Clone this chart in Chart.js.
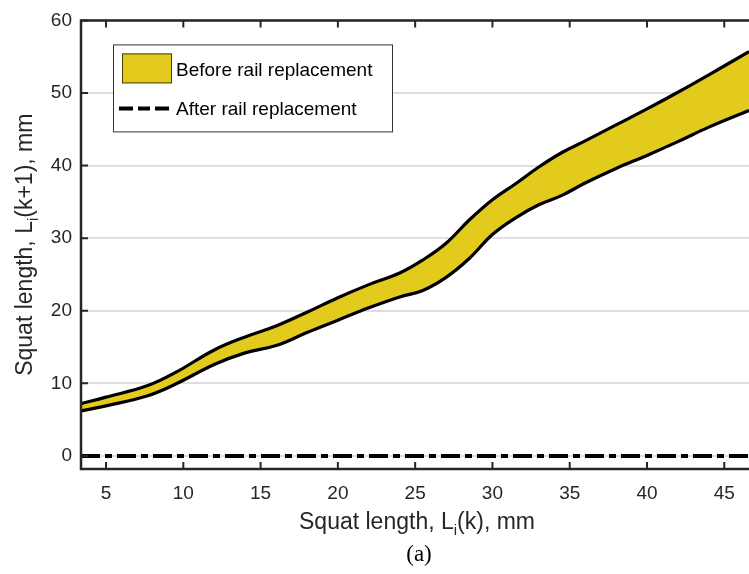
<!DOCTYPE html>
<html>
<head>
<meta charset="utf-8">
<script src="https://cdn.jsdelivr.net/npm/chart.js@4/dist/chart.umd.min.js"></script>
<style>
html,body{margin:0;padding:0;background:#fff;overflow:hidden;}
canvas{display:block;}
</style>
</head>
<body>
<canvas id="c" width="749" height="574"></canvas>
<script>
// ---- data ----
const xValues = [3.38, 5, 7.7, 9.5, 12, 14, 16, 18, 20, 22, 24, 25.5, 27, 28.5, 30, 31.5, 33, 34.5, 36, 38, 40, 42, 44, 46.6];
const beforeUpper = [7.2, 8.1, 9.7, 11.5, 14.6, 16.4, 17.9, 19.8, 21.8, 23.6, 25.2, 27.0, 29.3, 32.5, 35.3, 37.5, 39.8, 41.8, 43.4, 45.6, 47.8, 50.1, 52.5, 55.7];
const beforeLower = [6.2, 6.9, 8.3, 9.9, 12.6, 14.2, 15.2, 17.0, 18.7, 20.4, 21.9, 22.8, 24.6, 27.2, 30.5, 32.8, 34.6, 35.9, 37.6, 39.6, 41.4, 43.3, 45.3, 47.6];
const afterX = [3.38, 46.6];
const afterY = [0, 0];
const xTicks = [5, 10, 15, 20, 25, 30, 35, 40, 45];
const yTicks = [0, 10, 20, 30, 40, 50, 60];
const legendLabels = ['Before rail replacement', 'After rail replacement'];

const YELLOW = '#E3CB1D';
const AXIS = '#262626';
const FONT = '"Liberation Sans", Arial, Helvetica, sans-serif';

function drawSubText(ctx, parts, x, y, align) {
  const big = '23px ' + FONT, small = '15px ' + FONT;
  let total = 0;
  parts.forEach(p => { ctx.font = p[1] ? small : big; total += ctx.measureText(p[0]).width; });
  let cx = align === 'center' ? x - total / 2 : x;
  ctx.textAlign = 'left';
  ctx.textBaseline = 'alphabetic';
  parts.forEach(p => {
    ctx.font = p[1] ? small : big;
    ctx.fillText(p[0], cx, p[1] ? y + 6 : y);
    cx += ctx.measureText(p[0]).width;
  });
}

const decor = {
  id: 'decor',
  afterDraw(chart) {
    const ctx = chart.ctx, ca = chart.chartArea;
    const xs = chart.scales.x, ys = chart.scales.y;
    ctx.save();
    ctx.strokeStyle = AXIS;
    ctx.lineWidth = 2.5;
    ctx.lineCap = 'butt';
    ctx.beginPath();
    ctx.moveTo(ca.right + 2, ca.top); ctx.lineTo(ca.left, ca.top);
    ctx.lineTo(ca.left, ca.bottom); ctx.lineTo(ca.right + 2, ca.bottom);
    ctx.stroke();
    ctx.lineWidth = 2;
    ctx.beginPath();
    xTicks.forEach(v => {
      const px = xs.getPixelForValue(v);
      ctx.moveTo(px, ca.bottom); ctx.lineTo(px, ca.bottom - 7);
      ctx.moveTo(px, ca.top); ctx.lineTo(px, ca.top + 7);
    });
    yTicks.forEach(v => {
      const py = ys.getPixelForValue(v);
      ctx.moveTo(ca.left, py); ctx.lineTo(ca.left + 7, py);
    });
    ctx.stroke();

    // legend
    const lx = ca.left + 32, ly = ca.top + 24, lw = 279, lh = 87;
    ctx.fillStyle = '#fff';
    ctx.fillRect(lx, ly, lw, lh);
    ctx.strokeStyle = '#333';
    ctx.lineWidth = 1;
    ctx.strokeRect(lx + 0.5, ly + 0.5, lw, lh);
    ctx.fillStyle = YELLOW;
    ctx.fillRect(lx + 9, ly + 9, 50, 30);
    ctx.strokeStyle = '#4a3f00';
    ctx.strokeRect(lx + 9.5, ly + 9.5, 49, 29);
    ctx.strokeStyle = '#000';
    ctx.lineWidth = 4;
    ctx.setLineDash([14, 5, 12, 5]);
    ctx.beginPath();
    ctx.moveTo(lx + 6, ly + 64); ctx.lineTo(lx + 58, ly + 64);
    ctx.stroke();
    ctx.setLineDash([]);
    ctx.fillStyle = '#000';
    ctx.font = '19px ' + FONT;
    ctx.textAlign = 'left';
    ctx.textBaseline = 'alphabetic';
    ctx.fillText(legendLabels[0], lx + 63, ly + 32);
    ctx.fillText(legendLabels[1], lx + 63, ly + 71);

    // axis titles
    ctx.fillStyle = AXIS;
    drawSubText(ctx, [['Squat length, L', false], ['i', true], ['(k), mm', false]], (ca.left + ca.right) / 2 + 2, 529, 'center');
    ctx.save();
    ctx.translate(32, (ca.top + ca.bottom) / 2);
    ctx.rotate(-Math.PI / 2);
    drawSubText(ctx, [['Squat length, L', false], ['i', true], ['(k+1), mm', false]], 0, 0, 'center');
    ctx.restore();
    ctx.fillStyle = '#000';
    ctx.font = '23px "Liberation Serif", "Times New Roman", serif';
    ctx.textAlign = 'center';
    ctx.fillText('(a)', (ca.left + ca.right) / 2 + 4, 561);
    ctx.restore();
  }
};

new Chart(document.getElementById('c'), {
  type: 'line',
  data: {
    datasets: [
      {
        label: legendLabels[0],
        data: xValues.map((x, i) => ({ x: x, y: beforeUpper[i] })),
        borderColor: '#000', borderWidth: 3.2, backgroundColor: YELLOW,
        fill: '+1', pointRadius: 0, tension: 0.4
      },
      {
        label: 'lower',
        data: xValues.map((x, i) => ({ x: x, y: beforeLower[i] })),
        borderColor: '#000', borderWidth: 3.2, fill: false,
        pointRadius: 0, tension: 0.4
      },
      {
        label: legendLabels[1],
        data: afterX.map((x, i) => ({ x: x, y: afterY[i] })),
        borderColor: '#000', borderWidth: 4, borderDash: [19, 5, 7, 5],
        borderCapStyle: 'butt', fill: false, pointRadius: 0
      }
    ]
  },
  options: {
    responsive: false,
    animation: false,
    devicePixelRatio: 1,
    layout: { padding: { top: 16, right: 0, left: 0, bottom: 0 } },
    plugins: {
      legend: { display: false },
      tooltip: { enabled: false },
      filler: { drawTime: 'beforeDatasetsDraw' }
    },
    scales: {
      x: {
        type: 'linear', min: 3.38, max: 46.6,
        afterBuildTicks: s => { s.ticks = xTicks.map(v => ({ value: v })); },
        afterFit: s => { s.height = 105; },
        grid: { display: false, drawTicks: false },
        border: { display: false },
        ticks: { font: { family: FONT, size: 19 }, color: AXIS, padding: 13, maxRotation: 0, autoSkip: false }
      },
      y: {
        type: 'linear', min: -1.8, max: 60,
        afterBuildTicks: s => { s.ticks = yTicks.map(v => ({ value: v })); },
        afterFit: s => { s.width = 81; },
        grid: { color: '#dedede', lineWidth: 2, drawTicks: false },
        border: { display: false },
        ticks: { font: { family: FONT, size: 19 }, color: AXIS, padding: 9 }
      }
    }
  },
  plugins: [decor]
});
</script>
</body>
</html>
